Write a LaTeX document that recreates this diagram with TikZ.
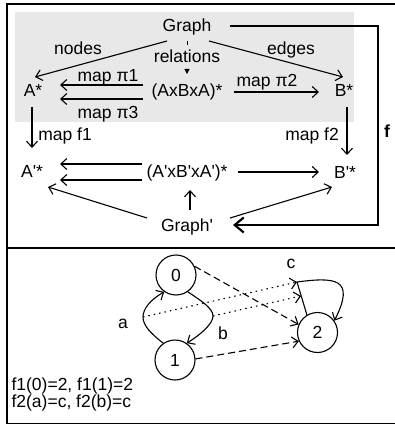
\documentclass[tikz,border=0pt]{standalone}
\usepackage{fontspec}
\setmainfont{Liberation Sans}[Ligatures=TeXOff]
\usetikzlibrary{arrows.meta}

\begin{document}
\begin{tikzpicture}
  [x=1pt,y=-1pt,line width=1.1pt,
   every node/.style={inner sep=0pt,font=\fontsize{17.5}{21}\selectfont},
   txt/.style={anchor=base},
   vtx/.style={circle,draw,minimum size=40pt},
   arr/.style={-{Straight Barb[length=6pt,width=11pt]}},
   farr/.style={-{Straight Barb[length=9pt,width=15pt]},line width=2.2pt},
   dashline/.style={arr,dash pattern=on 7pt off 4pt},
   dotline/.style={arr,dash pattern=on 1.5pt off 4pt}]
  \useasboundingbox (0,0) rectangle (395,425);
  \fill[black!9] (15,12) rectangle (354,122);
  \draw[line width=1.3pt] (395,4) -- (7,4) -- (7,423.5) -- (395,423.5);
  \draw[line width=1.3pt] (7,248) -- (395,248);

  % upper diagram
  \node[txt] (G) at (187,31.5) {Graph};
  \node[txt] (rel) at (187,63) {relations};
  \node[txt] (AxA) at (187,97) {(AxBxA)*};
  \node[txt] (As) at (33,97) {A*};
  \node[txt] (Bs) at (344,97) {B*};
  \node[txt] (Ap) at (32,177) {A'*};
  \node[txt] (ApxA) at (187,177) {(A'xB'xA')*};
  \node[txt] (Bp) at (345,178) {B'*};
  \node[txt] (Gp) at (187,231) {Graph'};

  \node[txt] (lnodes) at (78,55) {nodes};
  \node[txt] (ledges) at (291,55) {edges};
  \node[txt] (lpi1) at (108,82) {map π1};
  \node[txt] (lpi3) at (108,118) {map π3};
  \node[txt] (lpi2) at (267,87) {map π2};
  \node[txt] (lf1) at (65,140) {map f1};
  \node[txt] (lf2) at (312,140) {map f2};
  \node[txt,font=\bfseries\fontsize{17.5}{21}\selectfont] (lf) at (387,137) {f};

  \draw[arr] ([shift={(-20pt,-9.5pt)}]G.base) -- ([shift={(2pt,20pt)}]As.base);
  \draw[arr] ([shift={(22pt,-9.5pt)}]G.base) -- ([shift={(-1pt,20pt)}]Bs.base);
  \draw[line width=1pt] ([yshift=-9.5pt]G.base) -- ([yshift=18pt]rel.base);
  \draw[line width=1pt,-{Triangle[length=5pt,width=5pt]}] ([yshift=-6pt]rel.base) -- ([yshift=23pt]AxA.base);
  \foreach \dy in {12,-2}
    \draw[arr] ([shift={(-44pt,\dy pt)}]AxA.base) -- ([shift={(27pt,\dy pt)}]As.base);
  \draw[arr] ([shift={(47pt,5pt)}]AxA.base) -- ([shift={(-25pt,5pt)}]Bs.base);
  \draw[arr] ([shift={(-1pt,-10pt)}]As.base) -- ([shift={(0pt,29pt)}]Ap.base);
  \draw[arr] ([shift={(3pt,-10pt)}]Bs.base) -- ([shift={(2pt,23pt)}]Bp.base);
  \foreach \dy in {13,-3}
    \draw[arr] ([shift={(-45pt,\dy pt)}]ApxA.base) -- ([shift={(28pt,\dy pt)}]Ap.base);
  \draw[arr] ([shift={(51pt,5pt)}]ApxA.base) -- ([shift={(-26pt,6pt)}]Bp.base);
  \draw[arr] ([shift={(-40pt,13pt)}]Gp.base) -- ([shift={(16pt,-10pt)}]Ap.base);
  \draw[arr] ([shift={(3pt,21pt)}]Gp.base) -- ([shift={(3pt,-13pt)}]ApxA.base);
  \draw[arr] ([shift={(43pt,13pt)}]Gp.base) -- ([shift={(-13pt,-9pt)}]Bp.base);
  \coordinate (fc) at (378,26);
  \draw[farr] ([shift={(43pt,5.5pt)}]G.base) -- (fc) |- ([shift={(46pt,6pt)}]Gp.base);

  % lower graph
  \node[vtx] (n0) at (176,275) {0};
  \node[vtx] (n1) at (175,360) {1};
  \node[vtx] (n2) at (317.5,332.5) {2};
  \coordinate (ea) at (143,317);
  \coordinate (eb) at (213,316);
  \coordinate (cc) at (297,282);
  \coordinate (cd) at (301,296);

  \draw[arr] (n1.125) .. controls (150,333) and (143,325) .. (ea)
    .. controls (143,309) and (150,300) .. (n0.235);
  \draw[arr] (n0.-55) .. controls (200,300) and (213,308) .. (eb)
    .. controls (213,324) and (200,335) .. (n1.55);
  \draw[arr] (n2.121) -- (cc) .. controls (335,277) and (356,278) .. (n2.35);
  \draw[dotline] (ea) -- (cc);
  \draw[dotline] (eb) -- (cd);
  \draw[dashline] (n0.25) -- (n2.157);
  \draw[dashline] (n1.3) -- (n2.205);

  \node[txt] (la) at (123,328) {a};
  \node[txt] (lb) at (223,339) {b};
  \node[txt] (lc) at (291,268) {c};
  \node[txt,anchor=base west] (map1) at (11,390) {f1(0)=2, f1(1)=2};
  \node[txt,anchor=base west] (map2) at (11,407) {f2(a)=c, f2(b)=c};
\end{tikzpicture}
\end{document}
